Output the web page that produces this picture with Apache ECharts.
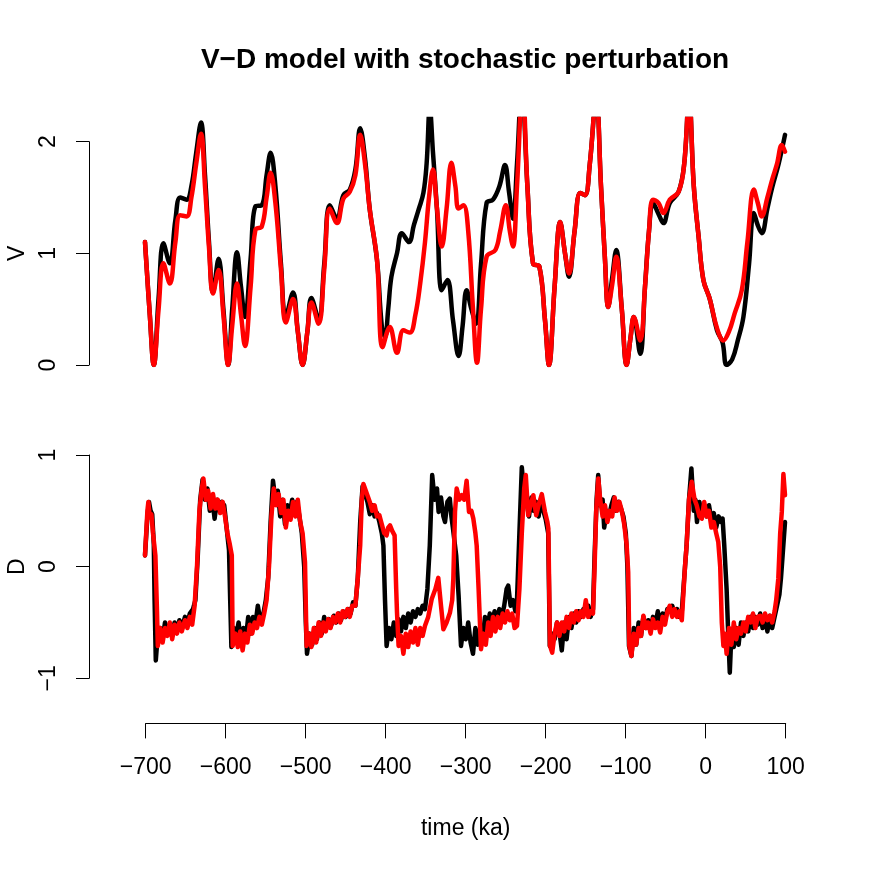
<!DOCTYPE html>
<html>
<head>
<meta charset="utf-8">
<title>V-D model</title>
<script src="https://cdn.jsdelivr.net/npm/echarts@6/dist/echarts.min.js"></script>
<style>
  html, body { margin: 0; padding: 0; background: #fff; }
  #chart { width: 872px; height: 872px; }
</style>
</head>
<body>
<div id="chart"></div>
<script>
// ice volume V, deterministic run (black) and stochastic run (red), [time ka, V]
var vBlack = [
  [-700,1.10],[-694,0.45],[-689,0.0],[-683,0.6],[-677,1.09],[-669,0.91],[-662,1.3],[-656,1.50],[-648,1.48],
  [-642,1.6],[-636,1.9],[-630,2.17],[-625,1.7],[-620,1.1],[-615,0.65],[-608,0.95],[-602,0.5],[-596,0.0],
  [-591,0.5],[-585,1.01],[-580,0.7],[-575,0.43],[-568,0.95],[-562,1.42],[-554,1.43],[-548,1.7],[-543,1.90],
  [-537,1.6],[-530,0.9],[-524,0.43],[-515,0.65],[-509,0.3],[-503,0.0],[-497,0.3],[-492,0.60],[-483,0.41],
  [-476,0.9],[-469,1.43],[-460,1.31],[-452,1.52],[-444,1.57],[-437,1.75],[-431,2.12],[-425,1.85],[-419,1.39],
  [-410,0.94],[-404,0.35],[-400,0.25],[-396,0.5],[-392,0.79],[-385,1.0],[-379,1.18],[-370,1.10],[-364,1.25],
  [-358,1.39],[-352,1.54],[-348,1.8],[-344,2.3],[-340,1.9],[-335,1.39],[-329,0.67],[-322,0.76],[-315,0.4],
  [-308,0.08],[-303,0.35],[-298,0.67],[-292,0.5],[-286,0.37],[-280,0.9],[-273,1.45],[-265,1.48],[-257,1.6],
  [-250,1.79],[-245,1.55],[-240,1.31],[-235,1.8],[-229,2.5],[-222,1.6],[-215,0.91],[-207,0.88],[-200,0.4],
  [-195,0.0],[-188,0.7],[-181,1.28],[-175,1.0],[-170,0.79],[-163,1.2],[-156,1.54],[-150,1.52],[-144,1.8],
  [-136,2.4],[-130,1.6],[-125,0.94],[-121,0.52],[-116,0.78],[-111,1.03],[-104,0.5],[-98,0.0],[-93,0.25],
  [-89,0.43],[-81,0.10],[-75,0.7],[-70,1.2],[-65,1.45],[-58,1.35],[-52,1.27],[-44,1.45],[-33,1.55],[-26,1.8],
  [-20,2.4],[-14,1.6],[-8,1.15],[-2,0.76],[6,0.59],[15,0.31],[22,0.2],[27,0.0],[34,0.05],[41,0.22],[48,0.43],
  [55,0.9],[61,1.36],[66,1.25],[71,1.18],[78,1.4],[84,1.59],[92,1.8],[100,2.06]
];
var vRed = [
  [-700,1.10],[-694,0.45],[-689,0.0],[-683,0.5],[-677,0.91],[-669,0.73],[-662,1.1],[-656,1.34],[-648,1.33],
  [-642,1.5],[-636,1.8],[-630,2.07],[-625,1.6],[-620,1.05],[-615,0.64],[-608,0.85],[-602,0.45],[-596,0.0],
  [-591,0.35],[-585,0.73],[-580,0.45],[-575,0.17],[-568,0.7],[-562,1.21],[-554,1.24],[-548,1.5],[-543,1.72],
  [-537,1.45],[-530,0.85],[-524,0.38],[-515,0.59],[-509,0.3],[-503,0.0],[-497,0.3],[-492,0.56],[-483,0.37],
  [-476,0.85],[-469,1.40],[-460,1.27],[-452,1.49],[-444,1.55],[-437,1.7],[-431,2.06],[-425,1.8],[-419,1.39],
  [-410,0.94],[-403,0.16],[-394,0.34],[-385,0.11],[-377,0.31],[-369,0.29],[-362,0.45],[-356,0.73],[-350,1.1],
  [-345,1.5],[-340,1.75],[-335,1.4],[-329,1.06],[-323,1.4],[-317,1.81],[-312,1.6],[-308,1.40],[-302,1.43],
  [-296,1.2],[-290,0.5],[-285,0.02],[-280,0.5],[-273,0.97],[-262,1.03],[-256,1.2],[-249,1.43],[-244,1.2],
  [-240,1.06],[-235,1.6],[-228,2.5],[-222,1.6],[-215,0.91],[-207,0.88],[-200,0.4],[-195,0.0],[-188,0.7],
  [-181,1.28],[-175,1.0],[-170,0.82],[-163,1.2],[-156,1.54],[-150,1.52],[-144,1.8],[-136,2.4],[-130,1.6],
  [-125,0.94],[-121,0.52],[-116,0.72],[-111,0.97],[-104,0.5],[-98,0.0],[-93,0.25],[-89,0.43],[-81,0.22],
  [-75,0.7],[-70,1.2],[-65,1.48],[-58,1.45],[-52,1.36],[-44,1.48],[-33,1.55],[-26,1.8],[-20,2.4],[-14,1.6],
  [-8,1.15],[-2,0.76],[6,0.59],[15,0.33],[23,0.22],[30,0.3],[37,0.46],[46,0.67],[53,1.1],[61,1.57],[66,1.45],
  [71,1.33],[78,1.5],[84,1.66],[90,1.8],[96,1.97],[100,1.91]
];
// D, [time ka, D]
var dBlack = [
  [-700,0.10],[-697,0.45],[-695,0.58],[-693,0.50],[-691,0.47],[-689,0.2],[-688,-0.3],[-686.5,-0.84],[-684,-0.6],
  [-681,-0.55],[-678,-0.65],[-675,-0.5],[-672,-0.6],[-669,-0.52],[-666,-0.62],[-663,-0.5],[-660,-0.58],[-657,-0.48],
  [-654,-0.55],[-650,-0.45],[-647,-0.52],[-644,-0.42],[-640,-0.38],[-637,-0.3],[-634,0.1],[-631,0.6],[-628,0.78],
  [-625,0.6],[-622,0.7],[-619,0.5],[-616,0.62],[-613,0.43],[-610,0.6],[-607,0.5],[-604,0.58],[-601,0.55],
  [-598,0.35],[-595,0.15],[-593.5,-0.3],[-592,-0.72],[-589,-0.55],[-586,-0.62],[-583,-0.5],[-580,-0.7],[-577,-0.55],
  [-574,-0.65],[-571,-0.45],[-568,-0.6],[-565,-0.45],[-562,-0.52],[-559,-0.35],[-556,-0.48],[-552,-0.42],[-549,-0.3],
  [-546,-0.1],[-543,0.4],[-540,0.77],[-537,0.6],[-534,0.68],[-531,0.45],[-528,0.6],[-525,0.38],[-522,0.55],
  [-519,0.48],[-516,0.6],[-513,0.5],[-510,0.58],[-507,0.45],[-504,0.3],[-501,0.0],[-499,-0.5],[-497.5,-0.78],
  [-494,-0.6],[-491,-0.7],[-488,-0.55],[-485,-0.65],[-482,-0.5],[-479,-0.6],[-476,-0.45],[-473,-0.55],[-470,-0.47],
  [-467,-0.52],[-464,-0.44],[-461,-0.5],[-458,-0.42],[-455,-0.48],[-452,-0.4],[-449,-0.45],[-446,-0.38],[-443,-0.42],
  [-440,-0.32],[-437,-0.35],[-434,-0.1],[-431,0.4],[-428,0.72],[-425,0.65],[-422,0.58],[-419,0.47],[-416,0.55],
  [-413,0.45],[-410,0.48],[-407,0.4],[-404,0.3],[-402,0.19],[-400,-0.3],[-398,-0.71],[-395,-0.55],[-392,-0.65],
  [-389,-0.5],[-386,-0.62],[-383,-0.47],[-380,-0.58],[-377,-0.45],[-374,-0.55],[-371,-0.42],[-368,-0.5],[-365,-0.4],
  [-362,-0.45],[-359,-0.38],[-356,-0.42],[-353,-0.35],[-350,-0.38],[-347,-0.2],[-344,0.19],[-341,0.82],[-338,0.6],
  [-335,0.7],[-333,0.49],[-330,0.62],[-327,0.45],[-325,0.40],[-322,0.58],[-319,0.61],[-317,0.45],[-315,0.34],
  [-311,0.1],[-308,-0.26],[-305,-0.71],[-302,-0.55],[-299,-0.65],[-296,-0.5],[-293,-0.68],[-290,-0.78],[-287,-0.55],
  [-284,-0.7],[-281,-0.55],[-278,-0.65],[-275,-0.45],[-272,-0.55],[-269,-0.42],[-266,-0.5],[-263,-0.4],[-260,-0.48],
  [-257,-0.38],[-254,-0.45],[-251,-0.35],[-248,-0.2],[-246,-0.17],[-243,-0.35],[-240,-0.3],[-237,-0.4],[-235,-0.3],
  [-232,0.3],[-229,0.89],[-226,0.65],[-223,0.58],[-220,0.45],[-217,0.62],[-214,0.5],[-211,0.58],[-208,0.45],
  [-205,0.6],[-202,0.5],[-199,0.42],[-196,0.3],[-195,-0.2],[-194,-0.71],[-191,-0.6],[-188,-0.65],[-185,-0.5],
  [-182,-0.58],[-179,-0.75],[-176,-0.5],[-173,-0.65],[-170,-0.45],[-167,-0.55],[-164,-0.42],[-161,-0.5],[-158,-0.4],
  [-155,-0.45],[-152,-0.38],[-149,-0.42],[-146,-0.35],[-143,-0.45],[-140,-0.38],[-138,0.1],[-135.5,0.6],[-133.5,0.82],
  [-131,0.55],[-128,0.6],[-126,0.35],[-123,0.5],[-120,0.45],[-117,0.55],[-114,0.62],[-111,0.5],[-108,0.58],
  [-105,0.52],[-102,0.45],[-99,0.3],[-97,0.0],[-95,-0.71],[-92,-0.8],[-89,-0.55],[-86,-0.7],[-83,-0.5],
  [-80,-0.62],[-77,-0.45],[-74,-0.55],[-71,-0.48],[-68,-0.58],[-65,-0.45],[-62,-0.52],[-59,-0.4],[-56,-0.55],
  [-53,-0.42],[-50,-0.48],[-47,-0.38],[-44,-0.4],[-41,-0.35],[-38,-0.42],[-35,-0.38],[-32,-0.45],[-29,-0.4],
  [-26,-0.1],[-23,0.19],[-20,0.6],[-17,0.88],[-14,0.5],[-12,0.6],[-10,0.4],[-7,0.58],[-4,0.45],[-1,0.55],
  [2,0.45],[5,0.55],[8,0.42],[11,0.48],[14,0.35],[17,0.45],[20,0.4],[22,0.43],[24,0.2],[27,-0.2],[29,-0.6],
  [31,-0.95],[33,-0.6],[36,-0.72],[39,-0.55],[42,-0.7],[45,-0.5],[48,-0.62],[51,-0.5],[54,-0.58],[57,-0.45],
  [60,-0.55],[63,-0.45],[66,-0.52],[69,-0.42],[72,-0.55],[75,-0.45],[78,-0.58],[81,-0.44],[84,-0.55],[87,-0.45],
  [90,-0.35],[93,-0.25],[95,-0.1],[97,0.1],[100,0.40]
];
var dRed = [
  [-700,0.10],[-697,0.50],[-695.8,0.58],[-694,0.44],[-692,0.47],[-690,0.3],[-687,0.1],[-685,-0.4],[-684,-0.71],
  [-681,-0.55],[-678,-0.68],[-675,-0.55],[-672,-0.62],[-669,-0.5],[-666,-0.65],[-663,-0.52],[-660,-0.6],[-657,-0.5],
  [-654,-0.58],[-650,-0.48],[-647,-0.55],[-644,-0.45],[-641,-0.52],[-638,-0.35],[-635,0.0],[-632,0.5],[-629,0.7],
  [-627,0.79],[-624,0.6],[-621,0.68],[-618,0.52],[-615,0.65],[-612,0.52],[-609,0.6],[-606,0.48],[-603,0.58],
  [-600,0.45],[-597,0.3],[-594,0.2],[-591.5,0.1],[-590.4,-0.71],[-587,-0.6],[-584,-0.72],[-581,-0.58],[-578,-0.75],
  [-575,-0.6],[-572,-0.68],[-569,-0.52],[-566,-0.6],[-563,-0.5],[-560,-0.55],[-557,-0.45],[-554,-0.52],[-551,-0.42],
  [-548,-0.3],[-545,0.0],[-542,0.45],[-539,0.7],[-536,0.55],[-533,0.65],[-530,0.48],[-527,0.6],[-524,0.35],
  [-521,0.5],[-518,0.42],[-515,0.58],[-512,0.45],[-509,0.6],[-506,0.4],[-503,0.3],[-500,0.04],[-498,-0.71],
  [-495,-0.6],[-492,-0.72],[-489,-0.55],[-486,-0.68],[-483,-0.5],[-480,-0.62],[-477,-0.5],[-474,-0.58],[-471,-0.47],
  [-468,-0.55],[-465,-0.45],[-462,-0.5],[-459,-0.42],[-456,-0.5],[-453,-0.4],[-450,-0.45],[-447,-0.38],[-444,-0.45],
  [-441,-0.35],[-437,-0.35],[-434,-0.1],[-431,0.19],[-429,0.6],[-427,0.74],[-424,0.68],[-421,0.62],[-419,0.58],
  [-416,0.5],[-413,0.55],[-410,0.45],[-407,0.46],[-404,0.38],[-401,0.3],[-398,0.28],[-396,0.35],[-393.75,0.37],
  [-391,0.32],[-388,0.28],[-386,-0.2],[-385,-0.41],[-383,-0.71],[-380,-0.62],[-377,-0.78],[-374,-0.6],[-371,-0.72],
  [-368,-0.58],[-365,-0.68],[-362,-0.55],[-359,-0.7],[-356,-0.55],[-353,-0.62],[-350,-0.53],[-346,-0.45],[-341.6,-0.29],
  [-337,-0.2],[-333.4,-0.10],[-330,-0.35],[-327,-0.56],[-323,-0.5],[-318.75,-0.41],[-316,-0.3],[-314.6,-0.11],
  [-312.5,0.49],[-310.4,0.70],[-307,0.6],[-304,0.64],[-301,0.6],[-298,0.77],[-295,0.49],[-292,0.5],[-289.6,0.43],
  [-287,0.3],[-285.4,0.19],[-283,-0.2],[-281,-0.56],[-280,-0.74],[-277,-0.6],[-274,-0.7],[-271,-0.5],[-268,-0.62],
  [-265,-0.45],[-262,-0.58],[-259,-0.45],[-256,-0.55],[-253,-0.42],[-250,-0.5],[-247,-0.4],[-244,-0.48],[-241,-0.42],
  [-238,-0.55],[-235,-0.53],[-232,-0.2],[-229,0.3],[-226,0.7],[-224,0.82],[-221,0.46],[-218,0.55],[-214.6,0.64],
  [-211,0.46],[-208,0.55],[-204,0.65],[-200,0.49],[-197,0.4],[-195.8,0.34],[-193.75,-0.71],[-191,-0.77],[-188,-0.6],
  [-185,-0.5],[-182,-0.62],[-179,-0.5],[-176,-0.58],[-173,-0.45],[-170,-0.55],[-167,-0.42],[-164,-0.5],[-161,-0.4],
  [-158,-0.48],[-155,-0.4],[-152,-0.45],[-149,-0.3],[-146,-0.45],[-143,-0.4],[-140,-0.42],[-138,0.0],[-136,0.5],
  [-133.4,0.79],[-131,0.6],[-128,0.45],[-125,0.55],[-122,0.4],[-119,0.5],[-116,0.45],[-113,0.62],[-110,0.5],
  [-107,0.58],[-104,0.5],[-101,0.38],[-98,0.2],[-96,-0.05],[-94.6,-0.71],[-92,-0.8],[-89,-0.6],[-86,-0.7],
  [-83,-0.55],[-80,-0.62],[-77,-0.44],[-74,-0.55],[-71,-0.5],[-68,-0.6],[-65,-0.47],[-62,-0.55],[-59,-0.5],
  [-56,-0.59],[-53,-0.45],[-50,-0.52],[-47,-0.4],[-44,-0.35],[-41,-0.45],[-38,-0.38],[-35,-0.45],[-32,-0.4],
  [-29,-0.48],[-27,-0.47],[-25,0.0],[-23,0.19],[-20,0.6],[-16.6,0.76],[-13,0.6],[-10.4,0.55],[-7,0.45],
  [-4,0.43],[-1,0.58],[2,0.45],[5,0.5],[8,0.35],[11,0.4],[14,0.3],[16.6,0.22],[19,0.0],[21,-0.5],[23,-0.71],
  [25,-0.6],[27,-0.78],[30,-0.55],[33,-0.7],[36,-0.5],[39,-0.65],[42,-0.55],[45,-0.6],[48,-0.5],[51,-0.58],
  [54,-0.45],[57,-0.5],[60,-0.42],[63,-0.55],[66,-0.45],[69,-0.44],[72,-0.5],[75,-0.42],[78,-0.48],[81,-0.44],
  [84,-0.5],[87,-0.4],[89,-0.3],[91.6,-0.11],[94,0.3],[96,0.49],[98,0.83],[100,0.64]
];
var vTicks = [0, 1, 2];
var dTicks = [-1, 0, 1];
var timeTicks = [-700, -600, -500, -400, -300, -200, -100, 0, 100];

var FONT = '"Liberation Sans", Arial, Helvetica, sans-serif';
var minus = function (v) { return String(v).replace('-', '\u2212'); };

var myChart = echarts.init(document.getElementById('chart'));

function hiddenX(i) {
  return { gridIndex: i, type: 'value', min: -770, max: 170, show: false };
}
function leftAxis(i, name, lo, hi, ticks) {
  return {
    gridIndex: i, type: 'value', min: lo, max: hi, interval: 1, position: 'left',
    name: name, nameLocation: 'middle', nameRotate: 90, nameGap: 59,
    nameTextStyle: { fontFamily: FONT, fontSize: 23, color: '#000' },
    axisLine: { show: true, onZero: false, lineStyle: { color: '#000', width: 1 } },
    axisTick: { show: true, length: 13, lineStyle: { color: '#000', width: 1 }, customValues: ticks },
    axisLabel: { rotate: 90, margin: 29, fontFamily: FONT, fontSize: 23, color: '#000',
                 formatter: minus, customValues: ticks },
    splitLine: { show: false }
  };
}
function line(data, color, xi, smooth) {
  return {
    type: 'line', data: data, xAxisIndex: xi, yAxisIndex: xi,
    showSymbol: false, smooth: smooth, clip: true,
    lineStyle: { color: color, width: 4.5, join: 'round', cap: 'round' }
  };
}
// fixed grids: do not let ECharts 6 shrink them to fit labels
function grid(left, width, top, height) {
  return { left: left, width: width, top: top, height: height, outerBoundsMode: 'none', containLabel: false };
}

var option = {
  animation: false,
  backgroundColor: '#fff',
  graphic: [{
    type: 'text', x: 465, y: 60,
    style: { text: 'V\u2212D model with stochastic perturbation', font: 'bold 28px ' + FONT,
             fill: '#000', align: 'center', verticalAlign: 'middle' }
  }],
  grid: [
    grid(89, 752, 119, 246),
    grid(89, 752, 141.7, 223.3),
    grid(89, 752, 455, 223.3),
    grid(145.7, 640, 700, 23.4)
  ],
  xAxis: [
    hiddenX(0), hiddenX(1), hiddenX(2),
    {
      gridIndex: 3, type: 'value', min: -700, max: 100, interval: 100, position: 'bottom',
      name: 'time (ka)', nameLocation: 'middle', nameGap: 94,
      nameTextStyle: { fontFamily: FONT, fontSize: 23, color: '#000' },
      axisLine: { show: true, onZero: false, lineStyle: { color: '#000', width: 1 } },
      axisTick: { show: true, length: 15, lineStyle: { color: '#000', width: 1 }, customValues: timeTicks },
      axisLabel: { margin: 33, fontFamily: FONT, fontSize: 23, color: '#000', formatter: minus,
                   customValues: timeTicks },
      splitLine: { show: false }
    }
  ],
  yAxis: [
    { gridIndex: 0, type: 'value', min: 0, max: 2.202, show: false },
    leftAxis(1, 'V', 0, 2, vTicks),
    leftAxis(2, 'D', -1, 1, dTicks),
    { gridIndex: 3, type: 'value', min: 0, max: 1, show: false }
  ],
  series: [
    line(vBlack, '#000000', 0, 0.4),
    line(vRed, '#ff0000', 0, 0.4),
    line(dBlack, '#000000', 2, false),
    line(dRed, '#ff0000', 2, false)
  ]
};
myChart.setOption(option);
</script>
</body>
</html>
